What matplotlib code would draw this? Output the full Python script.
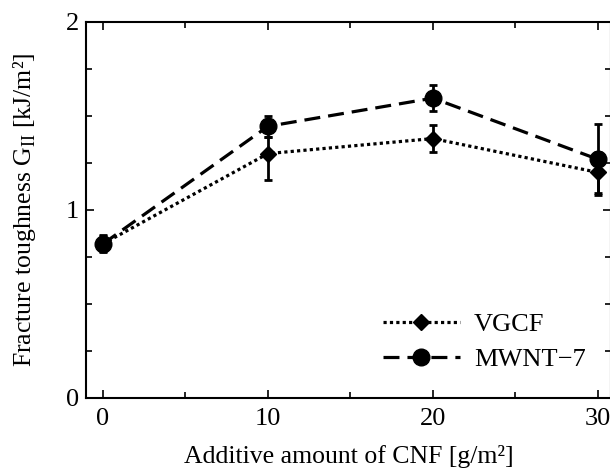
import numpy as np
import matplotlib.pyplot as plt
from matplotlib.ticker import MultipleLocator

plt.rcParams['font.family'] = ['Liberation Serif', 'DejaVu Serif']
plt.rcParams['mathtext.fontset'] = 'custom'
plt.rcParams['mathtext.rm'] = 'Liberation Serif'

# data
cnf_amount = [0, 10, 20, 30]
vgcf = [0.82, 1.30, 1.38, 1.20]
vgcf_err_lo = [0.04, 0.14, 0.07, 0.11]
vgcf_err_hi = [0.04, 0.09, 0.07, 0.11]
mwnt = [0.82, 1.445, 1.595, 1.27]
mwnt_err = [0.045, 0.055, 0.07, 0.19]

fig = plt.figure(figsize=(6.1, 4.68), dpi=100)
ax = fig.add_axes([86/610, 70/468, 525/610, 376/468])

err_kw = dict(fmt='none', ecolor='black', elinewidth=2, capsize=3, capthick=2)
ax.errorbar(cnf_amount, vgcf, yerr=[vgcf_err_lo, vgcf_err_hi], **err_kw)
ax.errorbar(cnf_amount, mwnt, yerr=mwnt_err, **err_kw)
ax.plot(cnf_amount, vgcf, color='black', linestyle=(0, (1, 1)), linewidth=2.3,
        marker='D', markersize=8, label='VGCF')
ax.plot(cnf_amount, mwnt, color='black', linestyle=(0, (5, 2.5)), linewidth=2.3,
        marker='o', markersize=12, label='MWNT\u22127')

ax.set_xlim(-1.03, 30.8)
ax.set_ylim(0, 2)
ax.xaxis.set_major_locator(MultipleLocator(10))
ax.xaxis.set_minor_locator(MultipleLocator(5))
ax.yaxis.set_major_locator(MultipleLocator(1))
ax.yaxis.set_minor_locator(MultipleLocator(0.25))
ax.tick_params(which='both', direction='in', top=True, right=True, width=1.2)
ax.tick_params(which='major', length=6, labelsize=19)
ax.tick_params(which='minor', length=4)
ax.tick_params(axis='x', which='major', pad=7)
ax.tick_params(axis='y', which='major', pad=5)
for s in ax.spines.values():
    s.set_linewidth(1.5)

ax.set_xlabel('Additive amount of CNF [g/m\u00b2]', fontsize=18.5, labelpad=11)
ax.set_ylabel('Fracture toughness G$_{\\rm II}$ [kJ/m\u00b2]', fontsize=18.5, labelpad=20)

ax.legend(loc='center left', bbox_to_anchor=(0.566, 0.149), frameon=False,
          borderpad=0, borderaxespad=0, fontsize=19, handlelength=2.9,
          handletextpad=0.55, labelspacing=0.45)

fig.savefig('out.png', dpi=100)
